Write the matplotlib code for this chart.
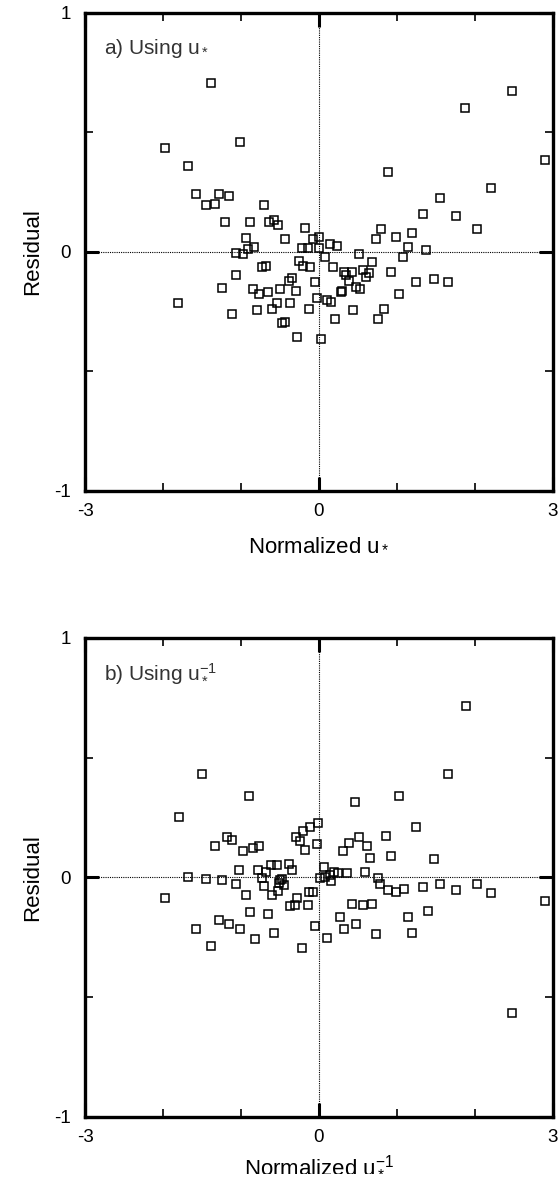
import matplotlib
matplotlib.use("Agg")
import matplotlib.pyplot as plt

plt.rcParams['font.family'] = ['Liberation Sans', 'DejaVu Sans']
plt.rcParams['mathtext.fontset'] = 'custom'
plt.rcParams['mathtext.rm'] = 'Liberation Sans'
plt.rcParams['mathtext.it'] = 'Liberation Sans'

# panel a) residual vs normalized u*
xa = [-1.39, -1.97, -1.01, -1.68, -1.58, -1.45, -1.33, -1.28, -1.15, -0.71,
      -1.20, -0.88, -0.64, -0.58, -0.52, -0.18, -0.94, -0.44, -0.07, 0.00,
      -1.06, -0.98, -0.91, -0.83, -0.22, -0.145, 0.00,
      -0.73, -0.68, -1.07, -1.24, -1.81, -0.84, -0.77, -0.65, -0.50, -0.39,
      -0.34, -0.29, -0.26, -0.20, -0.11, -0.05, -0.03, -0.54, -0.37, -0.60,
      -0.79, -1.11, -0.13, -0.47, -0.43, -0.28, 0.03,
      0.14, 0.23, 0.73, 0.99, 1.14, 1.38, 0.08, 0.51, 1.08, 0.68, 0.18, 0.32,
      0.35, 0.42, 0.57, 0.61, 0.64, 0.93, 0.38, 0.47, 0.53, 1.25, 1.48, 1.65,
      0.28, 0.29, 1.03, 0.10, 0.16, 0.44, 0.84, 0.21, 0.76,
      2.48, 1.88, 2.90, 0.89, 2.21, 1.56, 1.33, 1.76, 0.80, 2.03, 1.20]
ya = [0.707, 0.435, 0.459, 0.361, 0.244, 0.195, 0.202, 0.244, 0.233, 0.195,
      0.127, 0.127, 0.127, 0.132, 0.114, 0.102, 0.060, 0.053, 0.053, 0.064,
      -0.003, -0.010, 0.011, 0.022, 0.015, 0.015, 0.015,
      -0.064, -0.059, -0.095, -0.151, -0.212, -0.156, -0.174, -0.169, -0.156, -0.120,
      -0.107, -0.163, -0.039, -0.057, -0.064, -0.126, -0.194, -0.212, -0.212, -0.237,
      -0.243, -0.261, -0.237, -0.297, -0.292, -0.354, -0.365,
      0.033, 0.026, 0.053, 0.064, 0.022, 0.008, -0.020, -0.008, -0.020, -0.040, -0.064, -0.084,
      -0.095, -0.084, -0.077, -0.106, -0.089, -0.084, -0.120, -0.145, -0.156, -0.126, -0.114, -0.126,
      -0.166, -0.162, -0.176, -0.200, -0.210, -0.243, -0.237, -0.280, -0.280,
      0.675, 0.601, 0.385, 0.336, 0.268, 0.225, 0.158, 0.151, 0.096, 0.096, 0.078]

# panel b) residual vs normalized 1/u*
xb = [-1.50, -0.90, -1.79, -1.18, -1.11, -1.33, -0.98, -0.85, -0.77, -0.29,
      -0.20, -0.11, -0.01, -0.24, -0.18, -0.03, -1.03, -0.78, -0.62, -0.54,
      -0.68, -0.39, -0.35,
      1.89, 1.65, 1.03, 0.46, 1.25, 0.52, 0.86, 0.38, 0.62, 0.31, 0.65, 0.93,
      1.48, 0.06, 0.19, 0.25, 0.36, 0.59,
      -1.68, -1.45, -1.24, -1.07, -0.73, -0.71, -0.50, -0.47, -0.45, -0.51,
      -0.52, -0.60, -0.94, -1.97, -0.28, -0.13, -0.07, -0.37, -0.31, -0.145,
      -0.88, -0.65, -1.28, -1.15, -1.01, -1.58, -0.58, -0.82, -0.05, -1.39, -0.22,
      0.01, 0.08, 0.14, 0.16, 0.76, 0.79, 0.89, 0.99, 1.09, 1.33, 1.56, 1.76,
      2.03, 2.21, 2.90, 0.42, 0.56, 0.68, 0.27, 0.48, 0.32, 0.10, 0.73, 1.14,
      1.40, 1.20, 2.48]
yb = [0.432, 0.339, 0.254, 0.169, 0.157, 0.132, 0.112, 0.122, 0.132, 0.169,
      0.194, 0.212, 0.229, 0.151, 0.114, 0.139, 0.033, 0.033, 0.052, 0.052,
      0.023, 0.058, 0.030,
      0.715, 0.432, 0.339, 0.315, 0.211, 0.169, 0.173, 0.143, 0.130, 0.112, 0.081, 0.088,
      0.076, 0.045, 0.022, 0.017, 0.017, 0.022,
      0.002, -0.005, -0.010, -0.028, -0.003, -0.034, -0.010, -0.005, -0.030, -0.025,
      -0.055, -0.072, -0.072, -0.084, -0.084, -0.060, -0.060, -0.120, -0.115, -0.115,
      -0.145, -0.151, -0.176, -0.194, -0.214, -0.214, -0.232, -0.257, -0.201, -0.287, -0.293,
      -0.003, 0.003, 0.010, -0.013, -0.003, -0.028, -0.053, -0.061, -0.048, -0.041, -0.028, -0.053,
      -0.028, -0.066, -0.097, -0.109, -0.115, -0.109, -0.165, -0.194, -0.214, -0.251, -0.237, -0.165,
      -0.140, -0.232, -0.564]

panels = [
    (xa, ya, r'a) Using u$_*$', r'Normalized u$_*$', 10),
    (xb, yb, r'b) Using u$_*^{-1}$', r'Normalized u$_*^{-1}$', 5),
]

fig = plt.figure(figsize=(5.6, 11.99), dpi=100)
boxes = [[0.152, 0.5905, 0.835, 0.3987], [0.152, 0.0684, 0.835, 0.3995]]

for box, (x, y, tag, xlab, lpad) in zip(boxes, panels):
    ax = fig.add_axes(box)
    ax.plot(x, y, 's', ms=5.5, mfc='none', mec='black', mew=1.1)
    ax.axhline(0, color='black', lw=0.8, ls=(0, (1, 1)))
    ax.axvline(0, color='black', lw=0.8, ls=(0, (1, 1)))
    ax.set_xlim(-3, 3)
    ax.set_ylim(-1, 1)
    ax.set_xticks([-3, 0, 3])
    ax.set_yticks([-1, 0, 1])
    ax.set_xticklabels(['-3', '0', '3'])
    ax.set_yticklabels(['-1', '0', '1'])
    ax.set_xticks([-2, -1, 1, 2], minor=True)
    ax.set_yticks([-0.5, 0.5], minor=True)
    ax.tick_params(which='major', direction='in', length=10, width=2.2,
                   top=True, right=True, labelsize=13.5)
    ax.tick_params(axis='x', which='major', pad=9)
    ax.tick_params(axis='y', which='major', pad=10)
    ax.tick_params(which='minor', direction='in', length=6, width=1.2,
                   top=True, right=True)
    for s in ax.spines.values():
        s.set_linewidth(2.4)
    ax.set_xlabel(xlab, fontsize=16, labelpad=lpad)
    ax.set_ylabel('Residual', fontsize=16, labelpad=8)
    ax.text(0.04, 0.925, tag, transform=ax.transAxes, fontsize=15,
            color='#333333', ha='left', va='center')

fig.savefig('out.png', dpi=100)
